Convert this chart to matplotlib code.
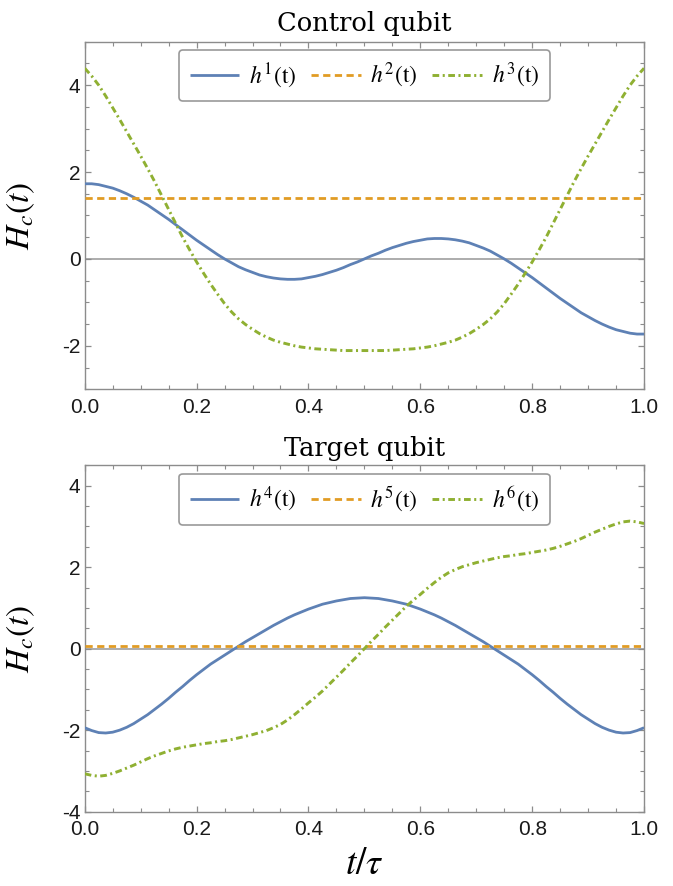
import matplotlib
matplotlib.use('Agg')
import matplotlib.pyplot as plt
from matplotlib.ticker import MultipleLocator
import numpy as np

# Sample grid in units of t/tau (step 0.0125)
t = np.linspace(0, 1, 81)

# Control qubit fields
h1 = [1.73, 1.73, 1.71, 1.67, 1.63, 1.57, 1.50, 1.42, 1.33, 1.24,
      1.13, 1.02, 0.91, 0.79, 0.67, 0.55, 0.43, 0.32, 0.21, 0.10,
      0.00, -0.09, -0.18, -0.25, -0.31, -0.37, -0.41, -0.44, -0.46, -0.47,
      -0.47, -0.46, -0.43, -0.40, -0.36, -0.31, -0.26, -0.20, -0.13, -0.07,
      0.00,
      0.07, 0.13, 0.20, 0.26, 0.31, 0.36, 0.40, 0.43, 0.46, 0.47,
      0.47, 0.46, 0.44, 0.41, 0.37, 0.31, 0.25, 0.18, 0.09, 0.00,
      -0.10, -0.21, -0.32, -0.43, -0.55, -0.67, -0.79, -0.91, -1.02, -1.13,
      -1.24, -1.33, -1.42, -1.50, -1.57, -1.63, -1.67, -1.71, -1.73, -1.73]
h2 = 1.41
h3 = [4.39, 4.21, 4.00, 3.75, 3.48, 3.21, 2.93, 2.65, 2.37, 2.08,
      1.78, 1.46, 1.14, 0.82, 0.50, 0.21, -0.07, -0.33, -0.58, -0.81,
      -1.03, -1.22, -1.38, -1.51, -1.62, -1.72, -1.80, -1.87, -1.92, -1.96,
      -2.00, -2.03, -2.05, -2.07, -2.08, -2.09, -2.10, -2.11, -2.11, -2.11,
      -2.11,
      -2.11, -2.11, -2.11, -2.10, -2.09, -2.08, -2.07, -2.05, -2.03, -2.00,
      -1.96, -1.92, -1.87, -1.80, -1.72, -1.62, -1.51, -1.38, -1.22, -1.03,
      -0.81, -0.58, -0.33, -0.07, 0.21, 0.50, 0.82, 1.14, 1.46, 1.78,
      2.08, 2.37, 2.65, 2.93, 3.21, 3.48, 3.75, 4.00, 4.21, 4.39]

# Target qubit fields
h4 = [-1.94, -2.01, -2.06, -2.07, -2.05, -2.00, -1.93, -1.84, -1.73, -1.62,
      -1.49, -1.36, -1.22, -1.07, -0.93, -0.78, -0.64, -0.51, -0.38, -0.27,
      -0.16, -0.05, 0.06, 0.17, 0.27, 0.37, 0.47, 0.57, 0.66, 0.75,
      0.83, 0.90, 0.97, 1.03, 1.09, 1.13, 1.17, 1.20, 1.23, 1.24,
      1.25,
      1.24, 1.23, 1.20, 1.17, 1.13, 1.09, 1.03, 0.97, 0.90, 0.83,
      0.75, 0.66, 0.57, 0.47, 0.37, 0.27, 0.17, 0.06, -0.05, -0.16,
      -0.27, -0.38, -0.51, -0.64, -0.78, -0.93, -1.07, -1.22, -1.36, -1.49,
      -1.62, -1.73, -1.84, -1.93, -2.00, -2.05, -2.07, -2.06, -2.01, -1.94]
h5 = 0.06
h6 = [-3.07, -3.11, -3.13, -3.11, -3.06, -3.00, -2.93, -2.86, -2.78, -2.70,
      -2.63, -2.57, -2.51, -2.46, -2.42, -2.39, -2.36, -2.33, -2.31, -2.28,
      -2.26, -2.23, -2.19, -2.15, -2.11, -2.06, -2.01, -1.94, -1.86, -1.75,
      -1.62, -1.48, -1.33, -1.19, -1.04, -0.87, -0.70, -0.53, -0.35, -0.18,
      0.00,
      0.18, 0.35, 0.53, 0.70, 0.87, 1.04, 1.19, 1.33, 1.48, 1.62,
      1.75, 1.86, 1.94, 2.01, 2.06, 2.11, 2.15, 2.19, 2.23, 2.26,
      2.28, 2.31, 2.33, 2.36, 2.39, 2.42, 2.46, 2.51, 2.57, 2.63,
      2.70, 2.78, 2.86, 2.93, 3.00, 3.06, 3.11, 3.13, 3.11, 3.07]

panels = [
    ('Control qubit', ['1', '2', '3'], h1, h2, h3, (-3, 5), [-2, 0, 2, 4]),
    ('Target qubit', ['4', '5', '6'], h4, h5, h6, (-4, 4.5), [-4, -2, 0, 2, 4]),
]

blue = '#5E81B5'
orange = '#E19C24'
green = '#8FB032'
frame_gray = '#8c8c8c'

plt.rcParams['mathtext.fontset'] = 'stix'
plt.rcParams['axes.unicode_minus'] = False
plt.rcParams['font.family'] = ['Liberation Sans', 'DejaVu Sans']

fig = plt.figure(figsize=(6.73, 8.86), dpi=100)
ax_top = fig.add_axes([0.1259, 0.5607, 0.8311, 0.3922])
ax_bot = fig.add_axes([0.1259, 0.0839, 0.8311, 0.3910])

for ax, (title, idx, sol, const, dd, ylim, yticks), tpad in zip(
        [ax_top, ax_bot], panels, [7.8, 6.7]):
    # zero axis line
    ax.axhline(0, color='#a6a6a6', lw=1.3, zorder=1)

    ax.plot(t, sol, color=blue, lw=2.0, solid_capstyle='butt',
            label=r'$h^{%s}\mathrm{(t)}$' % idx[0], zorder=3)
    ax.axhline(const, color=orange, lw=2.0, dashes=(2.6, 1.6),
               label=r'$h^{%s}\mathrm{(t)}$' % idx[1], zorder=3)
    ax.plot(t, dd, color=green, lw=2.1, dashes=(2.3, 1.2, 0.7, 1.2),
            dash_capstyle='butt',
            label=r'$h^{%s}\mathrm{(t)}$' % idx[2], zorder=3)

    ax.set_xlim(0, 1)
    ax.set_ylim(*ylim)
    ax.set_xticks([0.0, 0.2, 0.4, 0.6, 0.8, 1.0])
    ax.set_xticklabels(['0.0', '0.2', '0.4', '0.6', '0.8', '1.0'])
    ax.set_yticks(yticks)
    ax.xaxis.set_minor_locator(MultipleLocator(0.05))
    ax.yaxis.set_minor_locator(MultipleLocator(0.5))

    ax.tick_params(which='both', direction='in', top=True, right=True,
                   color=frame_gray, labelsize=15, labelcolor='#1a1a1a')
    ax.tick_params(which='major', length=4.5, width=0.9)
    ax.tick_params(which='minor', length=2.6, width=0.8)
    ax.tick_params(axis='x', pad=6)
    ax.tick_params(axis='y', pad=3)
    for sp in ax.spines.values():
        sp.set_color(frame_gray)
        sp.set_linewidth(1.0)

    ax.set_title(title, fontsize=18.5, family='DejaVu Serif', pad=tpad)
    ax.set_ylabel(r'$H_c(t)$', fontsize=24)
    ax.yaxis.set_label_coords(-0.085, 0.5)

    leg = ax.legend(loc='upper center', bbox_to_anchor=(0.5, 0.975),
                    ncol=3, fontsize=17, handlelength=2.1, handletextpad=0.42,
                    columnspacing=0.6, borderpad=0.45, borderaxespad=0,
                    framealpha=1, fancybox=True)
    frame = leg.get_frame()
    frame.set_edgecolor('#999999')
    frame.set_linewidth(1.2)
    frame.set_boxstyle('round', pad=0, rounding_size=0.15)

ax_bot.set_xlabel(r'$t/\tau$', fontsize=27, labelpad=5)

plt.savefig('out.png', dpi=100)
